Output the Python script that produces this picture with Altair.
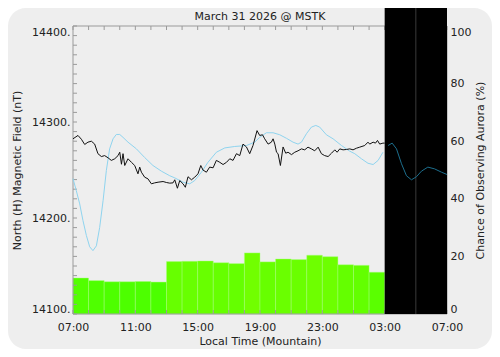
import json
import altair as alt
import pandas as pd

TITLE = "March 31 2026 @ MSTK"

# hourly aurora probability bars (hours after 07:00 local)
bar_hours = list(range(20))
aurora_pct = [12.5, 11.6, 11.2, 11.2, 11.3, 11.1, 18.2, 18.3, 18.4, 17.8,
              17.5, 21.2, 18.1, 19.1, 18.9, 20.4, 19.9, 17.1, 16.9, 14.5]

# measured north magnetic field (black line)
mag_hours = [0.00, 0.32, 0.54, 0.75, 0.96, 1.18, 1.39, 1.60, 1.82, 2.03, 2.25, 2.46,
             2.68, 2.89, 3.00, 3.11, 3.21, 3.32, 3.53, 3.75, 3.96, 4.17, 4.28, 4.39,
             4.60, 4.81, 5.03, 5.24, 5.46, 5.78, 5.99, 6.21, 6.42, 6.53, 6.70, 6.85,
             7.06, 7.21, 7.38, 7.60, 7.81, 8.02, 8.20, 8.34, 8.56, 8.77, 8.99, 9.20,
             9.42, 9.63, 9.85, 10.06, 10.27, 10.49, 10.70, 10.91, 11.13, 11.34, 11.55,
             11.81, 11.98, 12.16, 12.30, 12.52, 12.73, 12.84, 12.95, 13.06, 13.16,
             13.31, 13.48, 13.65, 13.80, 14.02, 14.23, 14.44, 14.66, 14.87, 15.08,
             15.30, 15.51, 15.73, 15.94, 16.15, 16.37, 16.59, 16.80, 16.95, 17.12,
             17.33, 17.55, 17.76, 17.97, 18.19, 18.40, 18.72, 18.93, 19.04, 19.26,
             19.41, 19.54, 19.68, 19.89, 20.00]
mag_nt = [14282.5, 14286, 14282, 14276.6, 14279, 14280, 14277, 14267, 14264, 14265,
          14262.7, 14260, 14261.7, 14265, 14268.5, 14256, 14267, 14254.7, 14261.7,
          14258, 14254.7, 14246, 14253, 14247.7, 14242.5, 14240.8, 14235.6, 14236.6,
          14237.3, 14238, 14237, 14236.3, 14236.6, 14239.8, 14231, 14239, 14235.6,
          14232, 14243, 14239.8, 14242.5, 14246, 14254.7, 14250, 14247.7, 14253,
          14252.3, 14260, 14258, 14255.7, 14258, 14261.7, 14260, 14267, 14265, 14277,
          14274, 14267, 14275.5, 14291, 14286, 14286.7, 14282.5, 14277, 14279, 14282.5,
          14277, 14268.5, 14267, 14254.7, 14274, 14267.5, 14268.5, 14266, 14268.5,
          14270, 14272, 14271, 14273.8, 14272, 14270, 14273.8, 14267, 14265, 14264,
          14267.5, 14271, 14268.5, 14272, 14271, 14271.4, 14272, 14271, 14272.7,
          14273.8, 14275.5, 14279, 14277, 14279, 14278, 14280.8, 14277, 14278, 14278]

# model / expected field (blue line)
model_hours = [0.00, 0.21, 0.43, 0.64, 0.86, 1.07, 1.28, 1.50, 1.71, 1.93, 2.14, 2.35,
               2.57, 2.78, 3.00, 3.21, 3.53, 4.07, 4.60, 5.13, 5.67, 6.21, 6.53, 7.06,
               7.49, 7.81, 8.24, 8.66, 9.20, 9.74, 10.38, 11.13, 11.66, 11.98, 12.41,
               12.84, 13.27, 13.70, 14.12, 14.44, 14.66, 14.98, 15.30, 15.58, 15.83,
               16.26, 16.69, 17.23, 17.76, 18.08, 18.51, 18.93, 19.26, 19.58, 19.89,
               20.22, 20.48, 20.76, 21.08, 21.40, 21.72, 22.04, 22.36, 22.77, 23.20,
               23.65, 24.00]
model_nt = [14241, 14228.6, 14214.7, 14197.3, 14181.7, 14170, 14166, 14171, 14190,
            14218, 14249.5, 14272, 14282.5, 14287, 14287, 14284, 14279, 14272, 14263,
            14254.7, 14248.8, 14244, 14241.8, 14237.3, 14235.6, 14239, 14247.7, 14258,
            14268.5, 14273, 14274.5, 14275.5, 14279, 14284, 14288.8, 14288.8, 14286.7,
            14283, 14279, 14277, 14279, 14287.8, 14294.7, 14296.4, 14294.7, 14286.7,
            14282.5, 14275.5, 14269.6, 14267, 14261.7, 14257, 14255.7, 14260, 14268.5,
            14275.5, 14278, 14272, 14256.5, 14244, 14239.8, 14243, 14248.8, 14253,
            14251.2, 14247.7, 14245.3]

forecast_start = [20]
forecast_end = [24]
forecast_divider = [22]

x_tick_hours = [0, 4, 8, 12, 16, 20, 24]
x_tick_labels = ["07:00", "11:00", "15:00", "19:00", "23:00", "03:00", "07:00"]
x_minor_hours = list(range(25))
nt_major = [14100, 14200, 14300, 14400]
nt_minor = list(range(14100, 14401, 10))
pct_major = [0, 20, 40, 60, 80, 100]

W, H = 374, 288
PL, PT, PR, PB = 65, 18, 45, 35
FONT = "DejaVu Sans"
INK = "#222222"
GRID = "#9a9a9a"

bar_df = pd.DataFrame({"h": bar_hours, "h2": [h + 1 for h in bar_hours], "pct": aurora_pct})
mag_df = pd.DataFrame({"h": mag_hours, "v": mag_nt})
model_df = pd.DataFrame({"h": model_hours, "v": model_nt})

X = alt.Scale(domain=[0, 24], nice=False, zero=False)
YL = alt.Scale(domain=[14100, 14400], nice=False, zero=False)
YR = alt.Scale(domain=[0, 100], nice=False)

x_axis = alt.Axis(values=x_tick_hours,
                  labelExpr=json.dumps(x_tick_labels) + "[round(datum.value/4)]",
                  ticks=False, tickSize=0, domain=False, grid=False, labelFlush=False,
                  labelPadding=7, title="Local Time (Mountain)", titlePadding=3, zindex=1)
left_axis = alt.Axis(orient="left", values=nt_major, labelExpr="datum.value + '.'",
                     ticks=False, tickSize=0, domain=False, grid=False, labelFlush=True,
                     labelPadding=3, title="North (H) Magnetic Field (nT)", titlePadding=9,
                     zindex=1)
right_axis = alt.Axis(orient="right", values=pct_major, ticks=False, tickSize=0,
                      domain=False, grid=False, labelFlush=True, labelPadding=3,
                      title="Chance of Observing Aurora (%)", titleAngle=270,
                      titleBaseline="top", titlePadding=4, zindex=1)


def xq(field):
    return alt.X(field, type="quantitative", scale=X, axis=x_axis)


def yl(field):
    return alt.Y(field, type="quantitative", scale=YL, axis=left_axis)


one = pd.DataFrame({"a": [0]})

card = alt.Chart(one).mark_rect(fill="#eeeeee", cornerRadius=18).encode(
    x=alt.value(-PL), x2=alt.value(W + PR), y=alt.value(-PT), y2=alt.value(H + PB))

bars = alt.Chart(bar_df).mark_rect(stroke="#a8ff80", strokeWidth=0.6, strokeOpacity=0.7).encode(
    x=xq("h"),
    x2="h2:Q",
    y=alt.Y("pct:Q", scale=YR, axis=right_axis),
    y2=alt.datum(0),
    color=alt.Color("pct:Q", scale=alt.Scale(domain=[11, 21], range=["#4cff00", "#70ff00"]),
                    legend=None),
)

frame = alt.Chart(one).mark_rect(fillOpacity=0, stroke=GRID, strokeWidth=1).encode(
    x=alt.value(0), x2=alt.value(W), y=alt.value(0), y2=alt.value(H))

left_ticks = alt.Chart(pd.DataFrame({"v": nt_minor})).mark_rule(color=GRID).encode(
    y=yl("v"), x=alt.value(0), x2=alt.value(4))
top_ticks = alt.Chart(pd.DataFrame({"h": x_minor_hours})).mark_rule(color=GRID).encode(
    x=xq("h"), y=alt.value(0), y2=alt.value(4))
bottom_ticks = alt.Chart(pd.DataFrame({"h": x_minor_hours})).mark_rule(color=GRID).encode(
    x=xq("h"), y=alt.value(H - 4), y2=alt.value(H))

black = alt.Chart(pd.DataFrame({"s": forecast_start, "e": forecast_end})).mark_rect(
    color="black").encode(
    x=xq("s"), x2="e:Q", y=alt.value(-PT), y2=alt.value(H))
divider = alt.Chart(pd.DataFrame({"d": forecast_divider})).mark_rule(
    color="#3a3a3a", strokeWidth=1).encode(
    x=xq("d"), y=alt.value(-PT), y2=alt.value(H))

blue_light = alt.Chart(model_df).transform_filter("datum.h <= 20").mark_line(
    color="#8fd4ef", strokeWidth=1).encode(x=xq("h"), y=yl("v"))
blue_dark = alt.Chart(model_df).transform_filter("datum.h >= 20").mark_line(
    color="#1d6f8e", strokeWidth=1).encode(x=xq("h"), y=yl("v"))
mag = alt.Chart(mag_df).mark_line(color="#111111", strokeWidth=1).encode(
    x=xq("h"), y=yl("v"))

title_text = alt.Chart(pd.DataFrame({"t": [TITLE]})).mark_text(
    font=FONT, fontSize=11, color=INK, align="center", baseline="middle").encode(
    x=alt.value(W / 2), y=alt.value(-9), text="t:N")

right_group = alt.layer(card, bars)
left_group = alt.layer(frame, left_ticks, top_ticks, bottom_ticks, black, divider,
                       blue_light, blue_dark, mag, title_text)

chart = alt.layer(right_group, left_group).resolve_scale(y="independent").properties(
    width=W, height=H,
    padding={"left": PL, "top": PT, "right": PR, "bottom": PB},
    autosize=alt.AutoSizeParams(type="none"),
    background="white",
).configure_view(strokeWidth=0).configure_axis(
    labelFont=FONT, titleFont=FONT, labelFontSize=11, titleFontSize=11,
    titleFontWeight="normal", labelColor=INK, titleColor=INK,
)

chart.save("out.html", embed_options={"renderer": "svg", "actions": False})
